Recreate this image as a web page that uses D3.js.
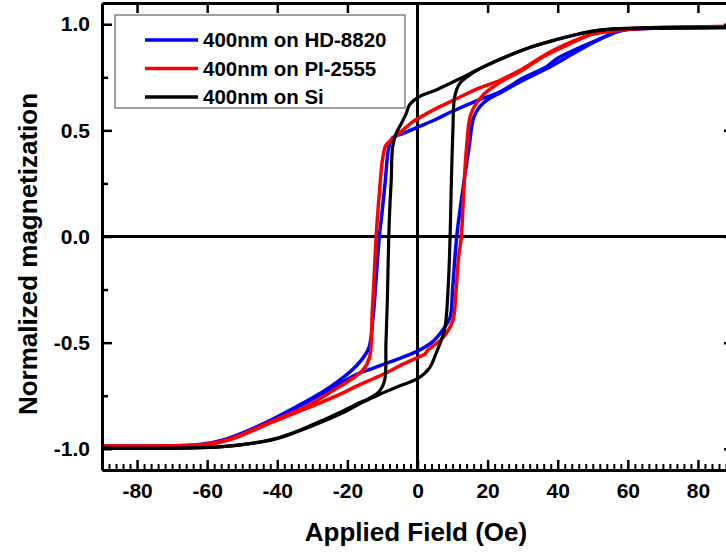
<!DOCTYPE html>
<html>
<head>
<meta charset="utf-8">
<script src="https://cdn.jsdelivr.net/npm/d3@7"></script>
<style>
  html, body { margin: 0; padding: 0; background: #fff; }
  svg { display: block; }
  text { font-family: "Liberation Sans", Arial, sans-serif; font-weight: bold; fill: #000; }
</style>
</head>
<body>
<svg id="chart" width="726" height="552"></svg>
<script>
// Hysteresis loops: [applied field (Oe), normalized magnetization]
// "Down" = field swept from +sat to -sat, "Up" = field swept from -sat to +sat.
const sampleNames = ["400nm on HD-8820", "400nm on PI-2555", "400nm on Si"];

const hdDown = [
  [90, 0.985], [70, 0.982], [60, 0.976], [56.8, 0.964], [52, 0.93], [46.3, 0.89], [40, 0.84],
  [36.8, 0.80], [30, 0.745], [23.4, 0.68], [17.7, 0.645], [10, 0.59], [5, 0.55], [0, 0.515],
  [-4.2, 0.485], [-7.1, 0.465], [-8.2, 0.42], [-9.2, 0.26], [-10.2, 0.1], [-10.9, 0],
  [-11.8, -0.2], [-12.8, -0.4], [-14, -0.53], [-17.5, -0.61], [-25, -0.71], [-36.6, -0.82],
  [-45, -0.89], [-55.7, -0.96], [-62, -0.98], [-90, -0.986]
];
const hdUp = [
  [-90, -0.99], [-62, -0.984], [-55.7, -0.965], [-45, -0.895], [-36.6, -0.825], [-25, -0.72],
  [-17.5, -0.65], [-12.6, -0.62], [-6, -0.58], [0, -0.54], [4, -0.50], [7.2, -0.44],
  [9.3, -0.38], [10, -0.25], [11.2, 0], [12.9, 0.217], [14.7, 0.42], [16.0, 0.56],
  [17.7, 0.61], [20, 0.645], [23.4, 0.675], [30, 0.735], [36.8, 0.79], [46.3, 0.88],
  [52, 0.93], [56.8, 0.964], [60, 0.976], [70, 0.982], [90, 0.985]
];

const piDown = [
  [90, 0.99], [70, 0.985], [57.7, 0.972], [49, 0.95], [44.4, 0.92], [36.8, 0.86], [30, 0.79],
  [23.4, 0.735], [17.7, 0.70], [10, 0.64], [5, 0.60], [0.6, 0.56], [-1.4, 0.54], [-3.2, 0.515],
  [-7.1, 0.46], [-9, 0.43], [-10, 0.36], [-10.9, 0.2], [-11.8, 0], [-12.4, -0.2],
  [-12.9, -0.35], [-13.7, -0.57], [-15.6, -0.63], [-25, -0.735], [-31.7, -0.80],
  [-41.4, -0.87], [-53.7, -0.955], [-60, -0.978], [-90, -0.986]
];
const piUp = [
  [-90, -0.988], [-60, -0.98], [-53.7, -0.958], [-41.4, -0.875], [-31.7, -0.81],
  [-22.3, -0.745], [-17.4, -0.705], [-12.6, -0.67], [-8, -0.635], [-4, -0.6], [0, -0.57],
  [2, -0.555], [3, -0.535], [7.1, -0.48], [10, -0.40], [11, -0.255], [11.7, -0.1],
  [12.5, 0], [13.2, 0.217], [14.0, 0.42], [15.3, 0.58], [18.6, 0.665], [23.4, 0.725],
  [30, 0.785], [36.8, 0.855], [44.4, 0.915], [50, 0.955], [57.7, 0.975], [70, 0.985], [90, 0.99]
];

const siDown = [
  [90, 0.985], [63.4, 0.98], [55.8, 0.978], [49, 0.965], [46.3, 0.955], [34.9, 0.905],
  [32, 0.89], [17.7, 0.79], [13, 0.75], [11, 0.735], [5.3, 0.69], [0.3, 0.657], [-2.3, 0.62],
  [-3.2, 0.58], [-4.7, 0.53], [-6.1, 0.485], [-7.1, 0.42], [-7.5, 0.26], [-7.8, 0.17],
  [-8.2, 0], [-8.6, -0.3], [-9.0, -0.5], [-9.4, -0.68], [-10.9, -0.73], [-13, -0.755],
  [-17.4, -0.79], [-22.3, -0.83], [-27, -0.865], [-34, -0.915], [-41.4, -0.955],
  [-55.7, -0.99], [-90, -0.997]
];
const siUp = [
  [-90, -0.997], [-55.7, -0.99], [-41.4, -0.958], [-34, -0.918], [-27, -0.872], [-20, -0.82],
  [-15.6, -0.78], [-10, -0.738], [-5, -0.703], [0, -0.67], [3.4, -0.62], [5.3, -0.55],
  [7.7, -0.44], [8.7, -0.255], [9.3, 0], [9.6, 0.217], [10.1, 0.5], [10.6, 0.657],
  [12, 0.72], [14, 0.75], [17.7, 0.79], [32, 0.89], [46.3, 0.955], [55.8, 0.978], [90, 0.985]
];

const xMajorTicks = [-80, -60, -40, -20, 0, 20, 40, 60, 80];
const yMajorTicks = [-1.0, -0.5, 0.0, 0.5, 1.0];
const yMinorTicks = [-0.75, -0.25, 0.25, 0.75];
const xDomain = [-90, 90];
const yDomain = [-1.1, 1.1];

const xTitle = "Applied Field (Oe)";
const yTitle = "Normalized magnetization";

// ---- layout ----
const plot = { left: 102, right: 733, top: 3, bottom: 470 };
const svg = d3.select("#chart");

const x = d3.scaleLinear().domain(xDomain).range([plot.left, plot.right]);
const y = d3.scaleLinear().domain(yDomain).range([plot.bottom, plot.top]);

svg.append("defs").append("clipPath").attr("id", "plotClip")
  .append("rect")
  .attr("x", plot.left).attr("y", plot.top)
  .attr("width", plot.right - plot.left).attr("height", plot.bottom - plot.top);

// zero lines
svg.append("line")
  .attr("x1", plot.left).attr("x2", plot.right)
  .attr("y1", y(0)).attr("y2", y(0))
  .attr("stroke", "#000").attr("stroke-width", 3);
svg.append("line")
  .attr("x1", x(0)).attr("x2", x(0))
  .attr("y1", plot.top).attr("y2", plot.bottom)
  .attr("stroke", "#000").attr("stroke-width", 3);

// loops
const line = d3.line()
  .x(d => x(d[0]))
  .y(d => y(d[1]))
  .curve(d3.curveCatmullRom.alpha(0.5));

const series = [
  { name: sampleNames[0], branches: [hdDown, hdUp], color: "#0000ff", width: 3.5 },
  { name: sampleNames[1], branches: [piDown, piUp], color: "#ff0000", width: 3.5 },
  { name: sampleNames[2], branches: [siDown, siUp], color: "#000000", width: 3.2 }
];

const curves = svg.append("g").attr("clip-path", "url(#plotClip)");
series.forEach(s => {
  s.branches.forEach(b => {
    curves.append("path")
      .datum(b)
      .attr("d", line)
      .attr("fill", "none")
      .attr("stroke", s.color)
      .attr("stroke-width", s.width)
      .attr("stroke-linejoin", "round")
      .attr("stroke-linecap", "round");
  });
});

// ---- axes ----
const xMinorTicks = d3.range(-90, 91, 2).filter(v => !xMajorTicks.includes(v));

function styleAxis(g) {
  g.select(".domain").attr("stroke", "#000").attr("stroke-width", 3);
  g.selectAll(".tick line").attr("stroke", "#000").attr("stroke-width", 2.5);
  g.selectAll(".tick text").style("font-size", "21px").style("font-weight", "bold")
    .attr("font-family", null);
}

// bottom major ticks + labels
svg.append("g")
  .attr("transform", `translate(0,${plot.bottom})`)
  .call(d3.axisBottom(x).tickValues(xMajorTicks).tickSize(-10).tickSizeOuter(0)
    .tickPadding(13).tickFormat(d => String(d)))
  .call(styleAxis);

// bottom minor ticks
svg.append("g")
  .attr("transform", `translate(0,${plot.bottom})`)
  .call(d3.axisBottom(x).tickValues(xMinorTicks).tickSize(-6).tickSizeOuter(0).tickFormat(""))
  .call(g => {
    g.select(".domain").remove();
    g.selectAll(".tick line").attr("stroke", "#000").attr("stroke-width", 2);
  });

// top ticks (no labels)
svg.append("g")
  .attr("transform", `translate(0,${plot.top})`)
  .call(d3.axisTop(x).tickValues(xMajorTicks.filter(v => v !== 0)).tickSize(-10).tickSizeOuter(0).tickFormat(""))
  .call(styleAxis);

// left minor ticks
svg.append("g")
  .attr("transform", `translate(${plot.left},0)`)
  .call(d3.axisLeft(y).tickValues(yMinorTicks).tickSize(-6).tickSizeOuter(0).tickFormat(""))
  .call(g => { g.select(".domain").remove(); g.selectAll(".tick line").attr("stroke", "#000").attr("stroke-width", 2.5); });

// left major ticks + labels
svg.append("g")
  .attr("transform", `translate(${plot.left},0)`)
  .call(d3.axisLeft(y).tickValues(yMajorTicks).tickSize(-10).tickSizeOuter(0)
    .tickPadding(12).tickFormat(d => d.toFixed(1)))
  .call(styleAxis);

// right ticks (no labels)
svg.append("g")
  .attr("transform", `translate(${plot.right},0)`)
  .call(d3.axisRight(y).tickValues(yMajorTicks).tickSize(-9).tickSizeOuter(0).tickFormat(""))
  .call(styleAxis);

// axis titles
svg.append("text")
  .attr("x", 416).attr("y", 541)
  .attr("text-anchor", "middle")
  .style("font-size", "26px")
  .text(xTitle);

svg.append("text")
  .attr("transform", `translate(37,254) rotate(-90)`)
  .attr("text-anchor", "middle")
  .style("font-size", "26px")
  .text(yTitle);

// ---- legend ----
const legend = svg.append("g");
legend.append("rect")
  .attr("x", 115).attr("y", 15).attr("width", 290).attr("height", 93)
  .attr("fill", "#fff").attr("stroke", "#808080").attr("stroke-width", 1.5);

series.forEach((s, i) => {
  const cy = 40 + i * 28.5;
  legend.append("line")
    .attr("x1", 145).attr("x2", 198).attr("y1", cy).attr("y2", cy)
    .attr("stroke", s.color).attr("stroke-width", 3.5);
  legend.append("text")
    .attr("x", 203).attr("y", cy + 7)
    .style("font-size", "20.5px")
    .text(s.name);
});
</script>
</body>
</html>
